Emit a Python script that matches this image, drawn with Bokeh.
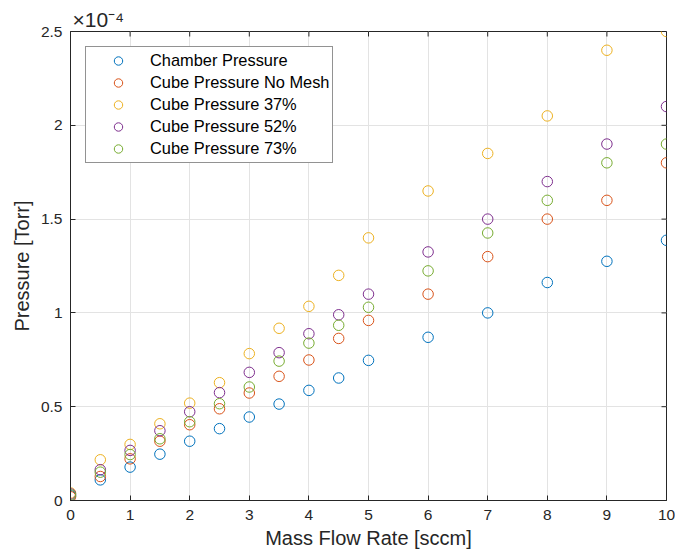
from bokeh.plotting import figure
from bokeh.models import FixedTicker, Range1d, Legend, LegendItem, Title
from bokeh.embed import file_html
from bokeh.resources import INLINE

# Mass flow rate [sccm]
flow = [0, 0.5, 1, 1.5, 2, 2.5, 3, 3.5, 4, 4.5, 5, 6, 7, 8, 9, 10]
# Pressures in units of 1e-4 Torr
chamber = [0.025, 0.110, 0.178, 0.247, 0.316, 0.383, 0.445, 0.514, 0.587, 0.653, 0.747, 0.870, 1.000, 1.162, 1.275, 1.387]
no_mesh = [0.020, 0.128, 0.222, 0.316, 0.404, 0.489, 0.573, 0.662, 0.749, 0.864, 0.960, 1.100, 1.300, 1.500, 1.600, 1.800]
mesh37 = [0.040, 0.217, 0.299, 0.409, 0.519, 0.628, 0.783, 0.918, 1.035, 1.200, 1.400, 1.650, 1.850, 2.050, 2.400, 2.500]
mesh52 = [0.035, 0.164, 0.267, 0.372, 0.473, 0.575, 0.683, 0.788, 0.889, 0.990, 1.100, 1.325, 1.500, 1.700, 1.900, 2.100]
mesh73 = [0.030, 0.151, 0.245, 0.329, 0.420, 0.516, 0.605, 0.743, 0.839, 0.934, 1.030, 1.224, 1.426, 1.600, 1.800, 1.900]

series_names = ["Chamber Pressure", "Cube Pressure No Mesh", "Cube Pressure 37%",
                "Cube Pressure 52%", "Cube Pressure 73%"]
series_values = [chamber, no_mesh, mesh37, mesh52, mesh73]
colors = ["#0072BD", "#D95319", "#EDB120", "#7E2F8E", "#77AC30"]

x_ticks = [0, 1, 2, 3, 4, 5, 6, 7, 8, 9, 10]
y_ticks = [0, 0.5, 1, 1.5, 2, 2.5]
y_tick_labels = ["0", "0.5", "1", "1.5", "2", "2.5"]
x_lim = (0, 10)
y_lim = (0, 2.5)

FONT = "Liberation Sans"
AX = "#262626"

W, H = 675, 558
BL, BR, BT, BB = 70, 9, 31, 58
TICK = 5

p = figure(width=W, height=H, output_backend="svg", toolbar_location=None,
           x_range=Range1d(*x_lim), y_range=Range1d(*y_lim),
           min_border_left=BL, min_border_right=BR, min_border_top=BT, min_border_bottom=BB)
p.background_fill_color = "white"
p.border_fill_color = "white"
p.outline_line_color = AX
p.outline_line_width = 1

p.xgrid.ticker = FixedTicker(ticks=x_ticks)
p.ygrid.ticker = FixedTicker(ticks=y_ticks)
p.xgrid.grid_line_color = "#e3e3e3"
p.ygrid.grid_line_color = "#e3e3e3"

# inward ticks on the top and right edges of the box
fw = W - BL - BR
fh = H - BT - BB
dy = (y_lim[1] - y_lim[0]) * TICK / fh
dx = (x_lim[1] - x_lim[0]) * TICK / fw
p.segment(x0=x_ticks, x1=x_ticks, y0=[y_lim[1]] * len(x_ticks),
          y1=[y_lim[1] - dy] * len(x_ticks), line_color=AX, line_width=1)
p.segment(x0=[x_lim[1]] * len(y_ticks), x1=[x_lim[1] - dx] * len(y_ticks),
          y0=y_ticks, y1=y_ticks, line_color=AX, line_width=1)

renderers = []
for name, vals, c in zip(series_names, series_values, colors):
    r = p.scatter(flow, vals, marker="circle", size=10.5, fill_color=None,
                  line_color=c, line_width=1)
    renderers.append((name, r))

def style_axis(ax):
    ax.axis_line_color = AX
    ax.axis_line_width = 1
    ax.major_tick_line_color = AX
    ax.major_tick_in = TICK
    ax.major_tick_out = 0
    ax.minor_tick_line_color = None
    ax.major_label_text_font = FONT
    ax.major_label_text_color = AX
    ax.major_label_text_font_size = "15.5px"
    ax.axis_label_text_font = FONT
    ax.axis_label_text_font_style = "normal"
    ax.axis_label_text_color = AX
    ax.axis_label_text_font_size = "20px"

xa = p.xaxis[0]
xa.ticker = FixedTicker(ticks=x_ticks)
xa.axis_label = "Mass Flow Rate [sccm]"
style_axis(xa)
xa.major_label_standoff = 9
xa.axis_label_standoff = 4

ya = p.yaxis[0]
ya.ticker = FixedTicker(ticks=y_ticks)
ya.major_label_overrides = {t: l for t, l in zip(y_ticks, y_tick_labels)}
ya.axis_label = "Pressure [Torr]"
style_axis(ya)
ya.major_label_standoff = 8
ya.axis_label_standoff = 5

# exponent multiplier above the y axis
p.add_layout(Title(text="×10⁻⁴", align="left", offset=2, standoff=1,
                   text_font=FONT, text_font_size="21px", text_font_style="normal",
                   text_color=AX), "above")

legend = Legend(items=[LegendItem(label=n, renderers=[r]) for n, r in renderers],
                location="top_left")
legend.margin = 15
legend.padding = 3
legend.spacing = 1
legend.label_height = 21
legend.glyph_height = 21
legend.glyph_width = 58
legend.label_standoff = 3
legend.label_text_font = FONT
legend.label_text_font_size = "16.4px"
legend.label_text_color = "black"
legend.border_line_color = AX
legend.border_line_width = 1
legend.background_fill_color = "white"
legend.background_fill_alpha = 1
p.add_layout(legend, "center")

open("out.html", "w").write(file_html(p, INLINE))
